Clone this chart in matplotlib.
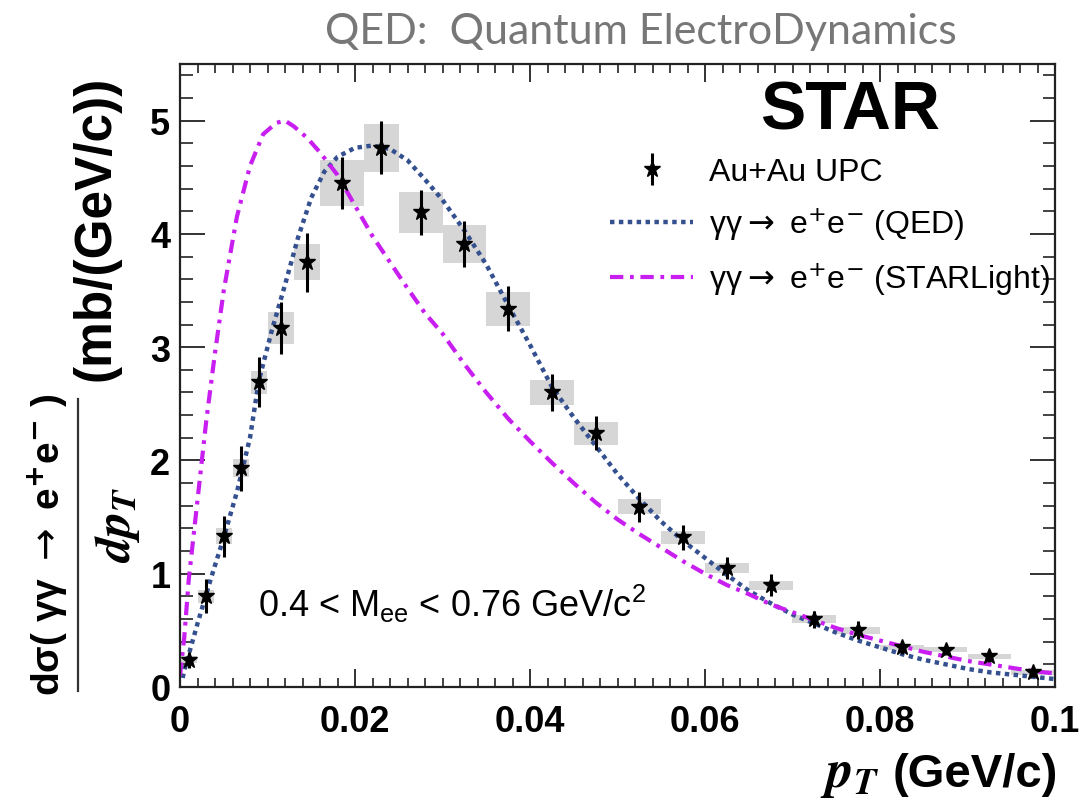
import matplotlib
matplotlib.use("Agg")
import matplotlib.pyplot as plt
from matplotlib.lines import Line2D
from matplotlib.ticker import MultipleLocator
from matplotlib.font_manager import FontProperties
from matplotlib.mathtext import MathTextParser

# ---------------- data ----------------
pt = [0.001, 0.003, 0.005, 0.007, 0.009, 0.0115, 0.0145, 0.0185, 0.023, 0.0275,
      0.0325, 0.0375, 0.0425, 0.0475, 0.0525, 0.0575, 0.0625, 0.0675, 0.0725,
      0.0775, 0.0825, 0.0875, 0.0925, 0.0975]
dsig = [0.24, 0.80, 1.33, 1.93, 2.69, 3.17, 3.75, 4.45, 4.76, 4.19,
        3.91, 3.34, 2.60, 2.24, 1.59, 1.32, 1.05, 0.90, 0.60,
        0.50, 0.35, 0.33, 0.27, 0.13]
stat_err = [0.07, 0.15, 0.18, 0.20, 0.22, 0.23, 0.26, 0.23, 0.235, 0.20,
            0.20, 0.20, 0.16, 0.15, 0.13, 0.11, 0.10, 0.10, 0.075,
            0.08, 0.06, 0.05, 0.05, 0.04]
sys_err = [0.03, 0.06, 0.07, 0.08, 0.10, 0.14, 0.16, 0.20, 0.21, 0.18,
           0.17, 0.15, 0.11, 0.10, 0.066, 0.056, 0.047, 0.04, 0.035,
           0.03, 0.025, 0.025, 0.02, 0.02]
bin_w = [0.0018, 0.0018, 0.0018, 0.0018, 0.0018, 0.003, 0.003, 0.005, 0.004, 0.005,
         0.005, 0.005, 0.005, 0.005, 0.005, 0.005, 0.005, 0.005, 0.005,
         0.005, 0.005, 0.005, 0.005, 0.005]

qed_pt = [0.0003, 0.0005, 0.002, 0.0035, 0.005, 0.0065, 0.008, 0.009, 0.0105, 0.012,
          0.0135, 0.015, 0.0165, 0.018, 0.020, 0.022, 0.024, 0.026, 0.028, 0.030,
          0.0325, 0.035, 0.0375, 0.040, 0.0425, 0.045, 0.0475, 0.050, 0.0525, 0.055,
          0.0575, 0.060, 0.0625, 0.065, 0.0675, 0.070, 0.0725, 0.075, 0.0775, 0.080,
          0.0825, 0.085, 0.0875, 0.090, 0.0925, 0.095, 0.0975, 0.100]
qed_val = [0.08, 0.15, 0.56, 0.95, 1.32, 1.72, 2.20, 2.70, 3.15, 3.55,
           3.97, 4.32, 4.55, 4.68, 4.76, 4.78, 4.75, 4.65, 4.48, 4.30,
           4.03, 3.73, 3.37, 3.02, 2.65, 2.38, 2.13, 1.88, 1.66, 1.46,
           1.29, 1.14, 0.99, 0.85, 0.74, 0.64, 0.56, 0.48, 0.41, 0.35,
           0.29, 0.24, 0.20, 0.16, 0.13, 0.11, 0.09, 0.07]

sl_pt = [0.0, 0.0005, 0.001, 0.002, 0.003, 0.004, 0.005, 0.0065, 0.008, 0.0095,
         0.011, 0.012, 0.013, 0.0145, 0.016, 0.018, 0.020, 0.022, 0.024, 0.026,
         0.028, 0.030, 0.0325, 0.035, 0.0375, 0.040, 0.0425, 0.045, 0.0475, 0.050,
         0.0525, 0.055, 0.0575, 0.060, 0.0625, 0.065, 0.0675, 0.070, 0.0725, 0.075,
         0.0775, 0.080, 0.0825, 0.085, 0.0875, 0.090, 0.0925, 0.095, 0.0975, 0.100]
sl_val = [0.10, 0.45, 0.95, 1.65, 2.35, 2.95, 3.50, 4.15, 4.60, 4.88,
          4.98, 5.00, 4.95, 4.85, 4.72, 4.52, 4.25, 3.98, 3.75, 3.52,
          3.30, 3.12, 2.85, 2.60, 2.37, 2.17, 1.98, 1.80, 1.63, 1.48,
          1.35, 1.23, 1.11, 1.00, 0.90, 0.82, 0.73, 0.66, 0.59, 0.52,
          0.46, 0.41, 0.36, 0.31, 0.27, 0.23, 0.20, 0.17, 0.14, 0.12]

xticks = [0, 0.02, 0.04, 0.06, 0.08, 0.1]
xtick_labels = ["0", "0.02", "0.04", "0.06", "0.08", "0.1"]
yticks = [0, 1, 2, 3, 4, 5]
ytick_labels = ["0", "1", "2", "3", "4", "5"]

legend_labels = ["Au+Au UPC",
                 "\u03b3\u03b3$\\rightarrow$ e$^{+}$e$^{-}$ (QED)",
                 "\u03b3\u03b3$\\rightarrow$ e$^{+}$e$^{-}$ (STARLight)"]

# ---------------- style ----------------
plt.rcParams["mathtext.fontset"] = "custom"
plt.rcParams["mathtext.rm"] = "Liberation Sans"
plt.rcParams["mathtext.it"] = "Liberation Sans:italic"
plt.rcParams["mathtext.bf"] = "Liberation Sans:bold"
plt.rcParams["mathtext.sf"] = "Liberation Sans"
plt.rcParams["font.family"] = ["Liberation Sans", "DejaVu Sans"]

W, H = 1092, 803
fig = plt.figure(figsize=(W / 100, H / 100), dpi=100)


def fx(p):
    return p / W


def fy(p):
    return 1 - p / H


ax = fig.add_axes([fx(180), fy(688), (1055 - 180) / W, (688 - 65) / H])

QED_COL = "#34508f"
SL_COL = "#c81ef0"

ax.bar(pt, [2 * s for s in sys_err], bottom=[y - s for y, s in zip(dsig, sys_err)],
       width=bin_w, color="#d6d6d6", linewidth=0, zorder=1)
l_qed, = ax.plot(qed_pt, qed_val, linestyle=(0, (1.0, 1.0)), color=QED_COL, lw=3.2, zorder=2)
l_sl, = ax.plot(sl_pt, sl_val, linestyle=(0, (3.2, 1.6, 0.9, 1.6)), color=SL_COL, lw=3.0, zorder=2)
eb = ax.errorbar(pt, dsig, yerr=stat_err, fmt="*", color="k", ms=12, elinewidth=2.2,
                 capsize=0, zorder=4)

ax.set_xlim(0, 0.1)
ax.set_ylim(0, 5.5)
ax.set_xticks(xticks, labels=xtick_labels)
ax.set_yticks(yticks, labels=ytick_labels)
ax.xaxis.set_minor_locator(MultipleLocator(0.002))
ax.yaxis.set_minor_locator(MultipleLocator(0.2))
ax.tick_params(which="both", direction="in", top=True, right=True, colors="#222222")
ax.tick_params(axis="y", which="major", length=18, width=1.3, pad=7)
ax.tick_params(axis="y", which="minor", length=9, width=1.2)
ax.tick_params(axis="x", which="major", length=13, width=1.3, pad=12)
ax.tick_params(axis="x", which="minor", length=6.5, width=1.2)
for lab in ax.get_xticklabels() + ax.get_yticklabels():
    lab.set_fontweight("bold")
    lab.set_fontsize(26)
    lab.set_color("black")
for sp in ax.spines.values():
    sp.set_linewidth(1.6)
    sp.set_color("#222222")

ax.legend([eb, l_qed, l_sl], legend_labels, loc="upper left",
          bbox_to_anchor=((610 - 180) / 875, (688 - 158) / 623),
          frameon=False, prop=FontProperties(size=23, math_fontfamily="dejavusans"),
          handlelength=2.6, handletextpad=0.5,
          labelspacing=0.55, borderpad=0, borderaxespad=0)

ax.text((850 - 180) / 875, (688 - 130) / 623, "STAR", transform=ax.transAxes,
        ha="center", va="baseline", fontsize=49, fontweight="bold")
ax.text((258 - 180) / 875, (688 - 617) / 623,
        "0.4 < M$_{\\mathrm{ee}}$ < 0.76 GeV/c$^{2}$", transform=ax.transAxes,
        ha="left", va="baseline", fontsize=26)

# title
fig.text(fx(641), fy(44), "QED:  Quantum ElectroDynamics", ha="center", va="baseline",
         fontsize=31, color="#777777", family=["Lato", "DejaVu Sans"])

# math strings with bold italic serif (fallback if unsupported)
def ok(s):
    try:
        MathTextParser("path").parse(s, 72, FontProperties(math_fontfamily="stix"))
        return True
    except Exception:
        return False

dpt = r"$\mathbfit{dp}_{\mathbfit{T}}$"
ptt = r"$\mathbfit{p}_{\mathbfit{T}}$"
if not ok(dpt):
    dpt = r"$\mathit{dp}_{\mathit{T}}$"
    ptt = r"$\mathit{p}_{\mathit{T}}$"

# y label
fig.text(fx(48), fy(545),
         "d\u03c3( \u03b3\u03b3 $\\rightarrow$ e$^{\\mathbf{+}}$e$^{\\mathbf{-}}$ )",
         rotation=90, ha="center", va="center", fontsize=28, fontweight="bold",
         math_fontfamily="dejavusans")
fig.add_artist(Line2D([fx(78), fx(78)], [fy(400), fy(692)], transform=fig.transFigure,
                      color="#333333", lw=1.6))
fig.text(fx(96), fy(228), "(mb/(GeV/c))", rotation=90, ha="center", va="center",
         fontsize=37, fontweight="bold")
fig.text(fx(117), fy(525), dpt, rotation=90, ha="center", va="center",
         fontsize=36, math_fontfamily="stix")

# x label
fig.text(fx(820), fy(787), ptt, ha="left", va="baseline", fontsize=38,
         math_fontfamily="stix")
fig.text(fx(893), fy(787), "(GeV/c)", ha="left", va="baseline", fontsize=34,
         fontweight="bold")

fig.savefig("out.png", dpi=100)
